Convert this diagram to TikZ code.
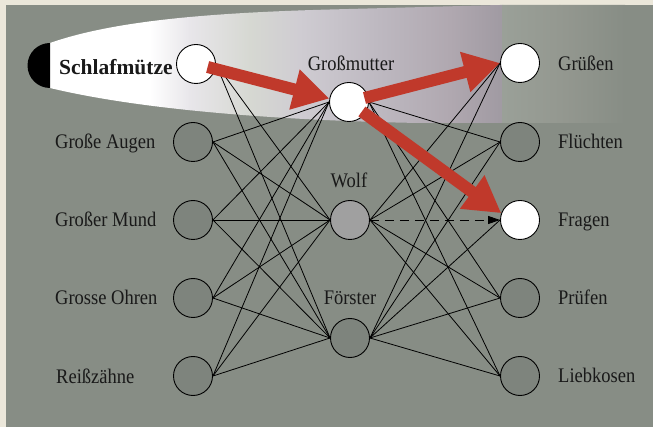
\documentclass[tikz,border=0pt]{standalone}
\usepackage{fontspec}
\newfontfamily\tfont{Liberation Serif}
\usetikzlibrary{arrows.meta}
\definecolor{beige}{HTML}{EBE7DA}
\definecolor{panel}{HTML}{878D85}
\definecolor{nodegray}{HTML}{7E847D}
\definecolor{wolfgray}{HTML}{A0A0A0}
\definecolor{redarr}{HTML}{C0392B}
\definecolor{bA}{HTML}{E8E6EA}
\definecolor{bB}{HTML}{D6D8D2}
\definecolor{bC}{HTML}{CFCCD2}
\definecolor{bD}{HTML}{BDB8C0}
\definecolor{bE}{HTML}{B0A8B0}
\definecolor{bF}{HTML}{A09AA2}
\definecolor{bG}{HTML}{9AA098}
\definecolor{bH}{HTML}{949890}
\newcommand{\lblt}[1]{\scalebox{1}[1.12]{#1}}
\tikzset{
  neuron/.style={circle, draw=black, line width=0.9pt, minimum size=39pt, inner sep=0pt, fill=nodegray},
  activen/.style={neuron, fill=white},
  wolfn/.style={neuron, fill=wolfgray},
  lbl/.style={font=\tfont\fontsize{18.5}{20}\selectfont, inner sep=0pt, text=black!90},
  lbll/.style={lbl, anchor=base west},
  lblm/.style={lbl, anchor=base},
  conn/.style={black, line width=0.8pt},
  bigred/.style={draw=redarr, line width=12pt, -{Triangle[length=36pt,width=39pt]}},
  dasharr/.style={black, line width=0.9pt, dash pattern=on 9pt off 6pt, -{Triangle[length=12pt,width=8pt]}}
}
\begin{document}
\begin{tikzpicture}[x=1pt,y=-1pt]
\useasboundingbox (0,0) rectangle (653,427);
\fill[beige] (0,0) rectangle (653,427);
\fill[panel] (6,5) rectangle (653,427);
% light beam
\begin{scope}
  \clip (50,43) .. controls (110,22) and (200,13) .. (330,9.5) -- (500,5) -- (653,5) -- (653,123) -- (420,123) .. controls (300,121) and (150,112) .. (50,88) -- cycle;
  \fill[white] (40,0) rectangle (150,130);
  \shade[left color=white, right color=bA] (149.5,0) rectangle (190,130);
  \shade[left color=bA, right color=bB] (189.5,0) rectangle (250,130);
  \shade[left color=bB, right color=bC] (249.5,0) rectangle (300,130);
  \shade[left color=bC, right color=bD] (299.5,0) rectangle (380,130);
  \shade[left color=bD, right color=bE] (379.5,0) rectangle (450,130);
  \shade[left color=bE, right color=bF] (449.5,0) rectangle (503,130);
  \shade[left color=bG, right color=bH] (502.5,0) rectangle (560,130);
  \shade[left color=bH, right color=panel] (559.5,0) rectangle (625,130);
\end{scope}
% flashlight
\fill[black] (50,43) arc[start angle=270, end angle=90, radius=22.5] -- cycle;
% nodes
\node[activen] (l1) at (196,64) {};
\node[neuron] (l2) at (193,142) {};
\node[neuron] (l3) at (193,220) {};
\node[neuron] (l4) at (193,298) {};
\node[neuron] (l5) at (193,376) {};
\node[activen] (m1) at (349,102) {};
\node[wolfn] (m2) at (350,220) {};
\node[neuron] (m3) at (350,338) {};
\node[activen] (r1) at (520,63) {};
\node[neuron] (r2) at (520,142) {};
\node[activen] (r3) at (520,220) {};
\node[neuron] (r4) at (520,298) {};
\node[neuron] (r5) at (520,376) {};
% connectors
\foreach \l/\m in {l1/m2,l1/m3,l2/m1,l2/m2,l2/m3,l3/m1,l3/m2,l3/m3,l4/m1,l4/m2,l4/m3,l5/m1,l5/m2,l5/m3}
  \draw[conn] (\l.east) -- (\m.west);
\foreach \m/\r in {m1/r2,m1/r4,m1/r5,m2/r1,m2/r2,m2/r4,m2/r5,m3/r1,m3/r2,m3/r3,m3/r4,m3/r5}
  \draw[conn] (\m.east) -- (\r.west);
% labels
\node[lbll, font=\tfont\bfseries\fontsize{21.5}{23}\selectfont] (t1) at (59,75) {Schlafmütze};
\node[lbll] (t2) at (55,149) {\lblt{Große Augen}};
\node[lbll] (t3) at (55,227) {\lblt{Großer Mund}};
\node[lbll] (t4) at (55,305) {\lblt{Grosse Ohren}};
\node[lbll] (t5) at (56,383) {\lblt{Reißzähne}};
\node[lblm] (t6) at (351,71) {\lblt{Großmutter}};
\node[lblm] (t7) at (349,188) {\lblt{Wolf}};
\node[lblm] (t8) at (350,305) {\lblt{Förster}};
\node[lbll] (t9) at (558,71) {\lblt{Grüßen}};
\node[lbll] (t10) at (558,149) {\lblt{Flüchten}};
\node[lbll] (t11) at (558,227) {\lblt{Fragen}};
\node[lbll] (t12) at (558,305) {\lblt{Prüfen}};
\node[lbll] (t13) at (558,382) {\lblt{Liebkosen}};
% dashed arrow
\draw[dasharr] (m2.east) -- (r3.west);
% red arrows
\draw[bigred, shorten <=12pt] (l1.center) -- (m1.170);
\draw[bigred, shorten <=16pt] (m1.center) -- (r1.west);
\draw[bigred, shorten <=16pt] (m1.center) -- (r3.160);
\end{tikzpicture}
\end{document}
